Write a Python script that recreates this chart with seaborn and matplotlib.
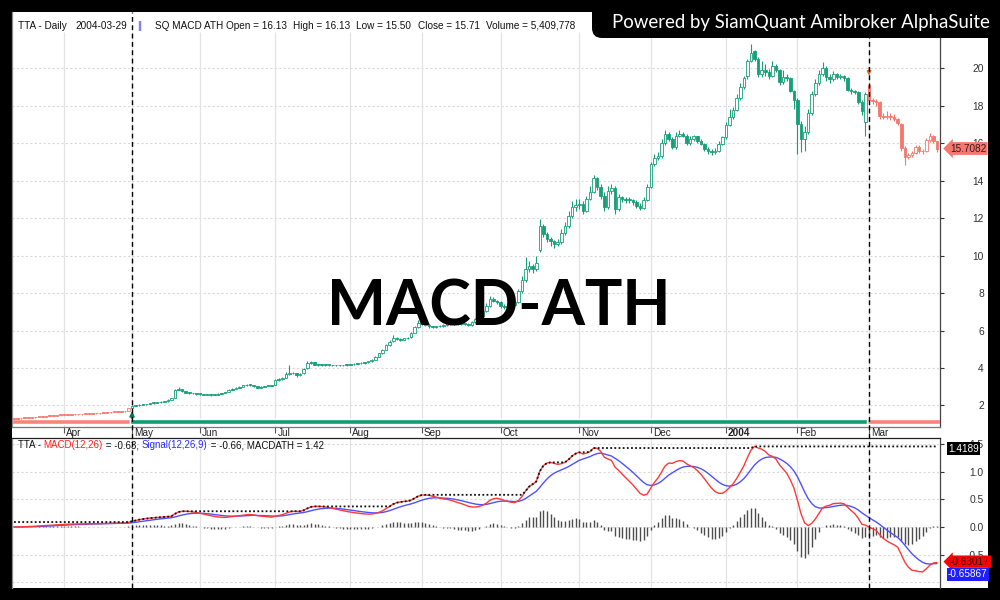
import numpy as np
import pandas as pd
import matplotlib
matplotlib.use("Agg")
import matplotlib.pyplot as plt
import matplotlib.transforms as mtransforms
from matplotlib.patches import Rectangle, FancyBboxPatch
from matplotlib.lines import Line2D
import seaborn as sns

# ---------------- data ----------------
ticker = "TTA"
start_date, end_date = "2003-03-12", "2004-03-29"
holidays = ["2003-04-07", "2003-04-14", "2003-04-15", "2003-05-01", "2003-05-05",
            "2003-05-15", "2003-07-01", "2003-07-14", "2003-08-12", "2003-10-23",
            "2003-12-05", "2003-12-10", "2004-01-01", "2004-01-02", "2004-03-05"]

o_2003_03 = [1.29,1.30,1.31,1.33,1.33,1.35,1.36,1.39,1.40,1.41,1.43,1.46,1.46,1.48]
h_2003_03 = [1.31,1.32,1.34,1.34,1.36,1.37,1.40,1.41,1.42,1.44,1.47,1.47,1.49,1.51]
l_2003_03 = [1.28,1.29,1.30,1.32,1.32,1.34,1.35,1.38,1.39,1.40,1.42,1.44,1.45,1.47]
c_2003_03 = [1.30,1.31,1.33,1.33,1.35,1.36,1.39,1.40,1.41,1.43,1.46,1.46,1.48,1.50]

o_2003_04 = [1.50,1.50,1.51,1.52,1.53,1.52,1.54,1.56,1.57,1.58,1.58,1.60,1.62,1.63,1.65,1.66,1.67,1.68,1.72]
h_2003_04 = [1.52,1.52,1.53,1.54,1.54,1.55,1.57,1.58,1.59,1.60,1.61,1.63,1.64,1.66,1.67,1.68,1.70,1.72,1.86]
l_2003_04 = [1.49,1.49,1.50,1.51,1.51,1.51,1.53,1.55,1.56,1.57,1.57,1.59,1.61,1.62,1.64,1.65,1.66,1.67,1.70]
c_2003_04 = [1.50,1.51,1.52,1.53,1.52,1.54,1.56,1.57,1.58,1.58,1.60,1.62,1.63,1.65,1.66,1.67,1.68,1.70,1.84]

o_2003_05 = [1.86,1.97,2.00,2.04,2.06,2.08,2.12,2.15,2.17,2.20,2.22,2.30,2.42,2.85,2.88,2.75,2.68,2.66,2.64]
h_2003_05 = [2.00,2.02,2.06,2.08,2.10,2.14,2.17,2.19,2.22,2.25,2.32,2.42,2.90,2.98,2.90,2.78,2.70,2.68,2.66]
l_2003_05 = [1.85,1.95,1.98,2.02,2.04,2.06,2.10,2.13,2.15,2.18,2.20,2.28,2.38,2.80,2.72,2.65,2.62,2.60,2.58]
c_2003_05 = [1.97,2.00,2.04,2.06,2.08,2.12,2.15,2.17,2.20,2.22,2.30,2.38,2.85,2.88,2.75,2.68,2.66,2.64,2.62]

o_2003_06 = [2.62,2.60,2.58,2.57,2.56,2.58,2.62,2.66,2.72,2.85,2.90,2.95,3.00,3.08,3.12,3.10,3.02,2.96,3.00,3.04,3.05]
h_2003_06 = [2.65,2.63,2.60,2.59,2.60,2.64,2.68,2.74,2.88,2.93,2.98,3.04,3.12,3.16,3.15,3.12,3.04,3.02,3.06,3.08,3.10]
l_2003_06 = [2.57,2.55,2.54,2.53,2.54,2.56,2.60,2.64,2.70,2.82,2.87,2.92,2.98,3.05,3.06,3.00,2.93,2.94,2.98,3.02,3.02]
c_2003_06 = [2.60,2.58,2.57,2.56,2.58,2.62,2.66,2.70,2.85,2.90,2.95,3.00,3.08,3.12,3.10,3.02,2.96,3.00,3.04,3.05,3.06]

o_2003_07 = [3.10,3.35,3.40,3.48,3.68,3.75,3.72,3.62,3.72,3.98,4.25,4.30,4.18,4.16,4.18,4.17,4.15,4.14,4.15,4.14,4.15]
h_2003_07 = [3.40,3.45,3.50,3.80,4.15,3.80,3.76,3.75,4.00,4.35,4.40,4.32,4.22,4.22,4.21,4.20,4.18,4.18,4.18,4.18,4.20]
l_2003_07 = [3.08,3.30,3.36,3.45,3.62,3.66,3.50,3.58,3.70,3.95,4.20,4.15,4.12,4.12,4.13,4.12,4.10,4.11,4.10,4.11,4.12]
c_2003_07 = [3.35,3.40,3.45,3.68,3.75,3.72,3.62,3.70,3.95,4.25,4.30,4.18,4.16,4.18,4.17,4.15,4.14,4.15,4.14,4.15,4.17]

o_2003_08 = [4.17,4.20,4.22,4.25,4.26,4.30,4.36,4.45,4.60,4.78,4.98,5.25,5.42,5.58,5.55,5.52,5.58,5.64,5.88,6.20]
h_2003_08 = [4.23,4.25,4.28,4.30,4.34,4.40,4.50,4.64,4.82,5.00,5.30,5.50,5.78,5.65,5.60,5.62,5.66,5.90,6.25,6.55]
l_2003_08 = [4.15,4.18,4.20,4.22,4.24,4.28,4.34,4.42,4.57,4.75,4.95,5.20,5.38,5.48,5.45,5.48,5.54,5.60,5.85,6.15]
c_2003_08 = [4.20,4.22,4.25,4.26,4.30,4.36,4.45,4.60,4.78,4.95,5.25,5.40,5.58,5.55,5.52,5.58,5.62,5.85,6.20,6.40]

o_2003_09 = [6.40,6.35,6.30,6.22,6.20,6.22,6.24,6.30,6.44,6.38,6.35,6.33,6.38,6.34,6.30,6.45,6.60,6.80,7.05,7.30,7.70,7.60]
h_2003_09 = [6.48,6.42,6.35,6.26,6.26,6.28,6.35,6.50,6.48,6.42,6.40,6.42,6.42,6.38,6.50,6.66,6.90,7.15,7.45,7.85,7.80,7.65]
l_2003_09 = [6.30,6.24,6.16,6.14,6.16,6.18,6.20,6.26,6.32,6.30,6.28,6.28,6.30,6.25,6.26,6.40,6.55,6.75,7.00,7.25,7.50,7.40]
c_2003_09 = [6.35,6.30,6.22,6.20,6.22,6.24,6.30,6.44,6.38,6.35,6.33,6.38,6.34,6.30,6.45,6.60,6.80,7.05,7.30,7.70,7.60,7.50]

o_2003_10 = [7.50,7.30,7.25,7.28,7.35,7.50,8.10,8.70,9.30,9.45,9.30,10.30,11.60,11.15,10.90,10.75,10.60,10.70,11.20,11.55,12.10,12.60]
h_2003_10 = [7.60,7.40,7.35,7.42,7.60,8.20,8.90,9.90,9.70,9.55,10.00,11.95,11.70,11.25,11.00,10.85,10.90,11.40,11.80,12.40,12.90,13.00]
l_2003_10 = [7.20,7.15,7.18,7.25,7.30,7.45,8.00,8.60,9.10,9.05,9.20,10.20,11.00,10.70,10.50,10.40,10.50,10.60,11.10,11.45,12.00,12.40]
c_2003_10 = [7.30,7.25,7.28,7.35,7.50,8.10,8.70,9.30,9.45,9.30,9.60,11.60,11.15,10.90,10.75,10.60,10.70,11.20,11.55,12.10,12.60,12.70]

o_2003_11 = [12.70,12.75,12.35,13.00,13.40,14.15,13.65,13.20,12.60,13.45,13.60,12.50,13.10,13.00,12.95,12.95,12.85,12.65,12.55,12.95]
h_2003_11 = [13.00,12.90,13.20,13.70,14.30,14.20,13.80,13.40,13.70,13.80,13.70,13.30,13.20,13.10,13.10,13.00,12.95,12.80,13.10,13.80]
l_2003_11 = [12.50,12.20,12.30,12.95,13.35,13.50,13.00,12.35,12.50,13.30,12.20,12.40,12.85,12.80,12.80,12.70,12.55,12.45,12.50,12.90]
c_2003_11 = [12.75,12.35,13.00,13.40,14.15,13.65,13.20,12.60,13.45,13.60,12.50,13.10,13.00,12.95,12.95,12.85,12.65,12.55,12.95,13.65]

o_2003_12 = [13.65,14.90,15.20,15.30,16.00,16.50,16.20,15.80,16.40,16.50,16.40,16.00,16.20,16.35,16.10,15.95,15.70,15.55,15.50,15.60,15.95]
h_2003_12 = [15.00,15.40,15.50,16.20,16.70,16.60,16.30,16.60,16.70,16.60,16.50,16.40,16.45,16.40,16.20,16.00,15.80,15.70,15.75,16.10,16.40]
l_2003_12 = [13.60,14.80,15.10,15.20,15.90,16.10,15.70,15.70,16.30,16.30,15.90,15.90,16.10,16.00,15.90,15.60,15.40,15.35,15.40,15.50,15.90]
c_2003_12 = [14.90,15.20,15.30,16.00,16.50,16.20,15.80,16.40,16.50,16.40,16.00,16.20,16.35,16.10,15.95,15.70,15.55,15.50,15.60,15.95,16.30]

o_2004_01 = [16.30,16.95,17.40,17.75,18.40,19.00,19.55,20.40,20.90,20.50,19.70,19.90,19.80,19.60,20.10,19.90,19.25,19.50,19.45,18.80]
h_2004_01 = [17.10,17.80,17.90,18.60,19.20,19.60,20.50,21.30,20.95,20.60,20.40,20.20,19.95,20.40,20.20,19.95,19.90,19.70,19.50,18.85]
l_2004_01 = [16.20,16.90,17.30,17.70,18.30,18.90,19.40,20.30,20.40,19.50,19.50,19.60,19.40,19.50,19.80,19.10,19.15,19.30,18.70,17.80]
c_2004_01 = [16.95,17.40,17.75,18.40,19.00,19.45,20.40,20.80,20.50,19.70,19.90,19.80,19.60,20.10,19.90,19.25,19.50,19.45,18.80,18.30]

o_2004_02 = [18.30,17.00,16.20,16.60,17.60,18.60,19.20,19.70,20.00,19.50,19.40,19.70,19.50,19.60,19.45,18.85,18.75,18.70,18.20,17.10]
h_2004_02 = [18.40,17.20,16.90,17.80,18.80,19.40,19.90,20.30,20.10,19.70,19.85,19.75,19.70,19.65,19.50,18.95,18.85,18.75,18.30,18.70]
l_2004_02 = [15.40,15.50,15.60,16.50,17.50,18.50,19.10,19.60,19.30,19.20,19.30,19.40,19.40,19.30,18.75,18.60,18.60,18.10,17.50,16.40]
c_2004_02 = [17.00,16.20,16.60,17.60,18.60,19.20,19.70,20.00,19.50,19.40,19.70,19.50,19.60,19.45,18.85,18.75,18.70,18.20,17.70,18.60]

o_2004_03 = [19.10,18.30,18.25,18.20,17.45,17.40,17.45,17.40,17.30,17.00,15.75,15.25,15.35,15.45,15.80,15.55,15.55,16.15,16.35,16.13]
h_2004_03 = [19.20,18.40,18.35,18.25,17.60,17.70,17.60,17.55,17.35,17.05,15.85,15.45,15.55,15.90,15.90,15.70,16.25,16.55,16.45,16.13]
l_2004_03 = [18.20,18.10,17.95,17.30,17.30,17.30,17.25,17.20,16.95,15.60,14.85,15.15,15.25,15.40,15.45,15.40,15.50,16.05,16.00,15.50]
c_2004_03 = [18.30,18.25,18.20,17.45,17.40,17.45,17.40,17.30,17.05,15.75,15.25,15.35,15.45,15.80,15.55,15.55,16.15,16.35,16.10,15.7082]

last_volume = 5409778
buy_date, sell_date = "2003-05-02", "2004-03-01"
macdath_prior = 0.09            # all-time-high of MACD before the window
label_macd, label_signal, label_ath = -0.63017, -0.65867, 1.4189
month_names = ["Jan", "Feb", "Mar", "Apr", "May", "Jun", "Jul", "Aug", "Sep", "Oct", "Nov", "Dec"]

# ---------------- assemble ----------------
months = ["2003_03", "2003_04", "2003_05", "2003_06", "2003_07", "2003_08", "2003_09",
          "2003_10", "2003_11", "2003_12", "2004_01", "2004_02", "2004_03"]
g = globals()
opens = np.concatenate([g["o_" + m] for m in months])
highs = np.concatenate([g["h_" + m] for m in months])
lows = np.concatenate([g["l_" + m] for m in months])
closes = np.concatenate([g["c_" + m] for m in months])

dates = pd.bdate_range(start_date, end_date)
dates = dates[~dates.isin(pd.to_datetime(holidays))]
assert len(dates) == len(closes) == len(opens) == len(highs) == len(lows)
n = len(dates)
idx = np.arange(n)
buy_i = int(np.where(dates == pd.Timestamp(buy_date))[0][0])
sell_i = int(np.where(dates == pd.Timestamp(sell_date))[0][0])

s = pd.Series(closes)
macd = (s.ewm(span=12, adjust=False).mean() - s.ewm(span=26, adjust=False).mean()).values
signal = pd.Series(macd).ewm(span=9, adjust=False).mean().values
hist = macd - signal
macdath = np.maximum.accumulate(np.maximum(macd, macdath_prior))

per = pd.Series(idx, index=dates)
month_first = per.groupby([dates.year, dates.month]).first()
month_first = month_first.iloc[1:]
month_labels = [str(y) if m == 1 else month_names[m - 1] for (y, m) in month_first.index]

# ---------------- style ----------------
sns.set_style("white")
plt.rcParams["font.family"] = ["Liberation Sans", "DejaVu Sans"]
plt.rcParams["axes.unicode_minus"] = False

GREEN = "#17A078"
GREEN_BAND = "#0E9E72"
RED = "#F6776E"
RED_BAND = "#F8847C"
BLUE_TXT = "#3333FF"
GRID = "#D9D9D9"

W, H = 1000, 600
fig = plt.figure(figsize=(10, 6), dpi=100, facecolor="black")
fig.patches.append(Rectangle((12 / W, 12 / H), 976 / W, 576 / H, transform=fig.transFigure,
                             facecolor="white", edgecolor="none", zorder=-5))

ax = fig.add_axes([12 / W, 1 - 427 / H, 928 / W, 415 / H])
axm = fig.add_axes([12 / W, 12 / H, 928 / W, 150 / H], sharex=ax)
for a in (ax, axm):
    a.set_facecolor("white")
    a.grid(False)

xl = (-0.56, n - 1 + 0.84)
ax.set_xlim(*xl)
ax.set_ylim(0.853, 22.99)
axm.set_ylim(-1.109, 1.618)

# grid
price_ticks = np.arange(2, 21, 2)
ax.hlines(price_ticks, xl[0], xl[1], colors=GRID, linewidth=0.8, linestyles=(0, (2, 2)), zorder=0)
ax.vlines(month_first.values, 0.853, 21.9, colors="#E3E3E3", linewidth=0.9, zorder=0)
macd_ticks = [1.5, 1.0, 0.5, 0.0, -0.5]
axm.hlines(macd_ticks + [-1.0], xl[0], xl[1], colors=GRID, linewidth=0.8, linestyles=(0, (2, 2)), zorder=0)
axm.vlines(month_first.values, -1.109, 1.618, colors="#E3E3E3", linewidth=0.9, zorder=0)

# position band
ax.broken_barh([(xl[0], buy_i - 0.5 - xl[0]), (sell_i - 0.5, xl[1] - sell_i + 0.5)], (1.01, 0.27),
               facecolors=RED_BAND, zorder=1)
ax.broken_barh([(buy_i - 0.5, sell_i - buy_i)], (1.01, 0.27), facecolors=GREEN_BAND, zorder=1)

# candles
in_pos = (idx >= buy_i) & (idx < sell_i)
cols = np.where(in_pos, GREEN, RED)
up = closes >= opens
ax.vlines(idx, lows, highs, colors=cols, linewidth=0.8, zorder=2)
body_bottom = np.minimum(opens, closes)
body_h = np.maximum(np.abs(closes - opens), 0.04)
faces = np.where(up & (np.abs(closes - opens) > 0.05), "white", cols)
ax.bar(idx, body_h, bottom=body_bottom, width=0.72, color=faces, edgecolor=cols, linewidth=0.6, zorder=3)

# signals
ax.annotate("", xy=(buy_i, 1.85), xytext=(buy_i, 1.15),
            arrowprops=dict(arrowstyle="-|>", color="#0B7352", lw=1.2, mutation_scale=7), zorder=6)
ax.annotate("", xy=(sell_i, highs[sell_i] + 0.25), xytext=(sell_i, highs[sell_i] + 0.95),
            arrowprops=dict(arrowstyle="-|>", color="#D9652B", lw=1.0, mutation_scale=6), zorder=6)

# x (date) axis
ax.set_xticks(month_first.values)
ax.tick_params(axis="x", length=4, direction="out", color="#555555", labelbottom=False, bottom=True)
bx = mtransforms.blended_transform_factory(ax.transData, ax.transAxes)
for xi, lab in zip(month_first.values, month_labels):
    ax.text(xi + 0.6, -0.0145, lab, transform=bx, ha="left", va="center", fontsize=7.2,
            color="#222222", fontweight="bold" if lab.isdigit() else "normal")

# y axes on the right
ax.yaxis.tick_right()
ax.set_yticks(price_ticks)
ax.set_yticklabels([f"{v:d}" for v in price_ticks])
ax.tick_params(axis="y", length=3, pad=28.5, labelsize=7.4, colors="#333333", right=True)
for lab in ax.get_yticklabels():
    lab.set_horizontalalignment("right")

axm.yaxis.tick_right()
axm.set_yticks(macd_ticks)
axm.set_yticklabels([f"{v:.1f}" for v in macd_ticks])
axm.tick_params(axis="y", length=3, pad=28.5, labelsize=7.4, colors="#333333", right=True)
axm.tick_params(axis="x", bottom=False, labelbottom=False)
for lab in axm.get_yticklabels():
    lab.set_horizontalalignment("right")

for a in (ax, axm):
    a.spines["left"].set_color("#8A8A8A")
    a.spines["right"].set_color("#444444")
    for sp in a.spines.values():
        sp.set_linewidth(0.9)
ax.spines["top"].set_visible(False)
ax.spines["bottom"].set_color("#777777")
axm.spines["bottom"].set_visible(False)
axm.spines["top"].set_color("#222222")

# MACD panel
axm.vlines(idx, 0, hist, colors="#4D4D4D", linewidth=1.0, zorder=2)
dfm = pd.DataFrame({"idx": idx, "MACD": macd, "Signal": signal, "MACDATH": macdath})
sns.lineplot(data=dfm, x="idx", y="Signal", ax=axm, color="#5050FF", linewidth=1.0, zorder=4)
sns.lineplot(data=dfm, x="idx", y="MACD", ax=axm, color="#FF3838", linewidth=1.0, zorder=5)
axm.plot(idx, macdath, color="#111111", linewidth=1.3, linestyle=(0, (1, 1.3)), zorder=6)
for a in (ax, axm):
    a.set_xlabel("")
    a.set_ylabel("")
ax.set_xlim(*xl)

# buy / sell vertical dashed lines spanning both panes
vt = mtransforms.blended_transform_factory(ax.transData, fig.transFigure)
for xi in (buy_i, sell_i):
    fig.add_artist(Line2D([xi, xi], [12 / H, 1 - 12 / H], transform=vt, color="black",
                          linewidth=1.0, linestyle=(0, (3.5, 2.5)), zorder=3))

# value tags on the right
bt = mtransforms.blended_transform_factory(ax.transAxes, ax.transData)
ax.text(1.0 + 10 / 928, closes[-1], f"{closes[-1]:.4f}", transform=bt, ha="left", va="center",
        fontsize=7.2, color="#3A1A1A", clip_on=False, zorder=7,
        bbox=dict(boxstyle="larrow,pad=0.14", fc=RED, ec="none"))
btm = mtransforms.blended_transform_factory(axm.transAxes, axm.transData)
axm.text(1.0 + 8 / 928, label_ath, f"{label_ath:.4f}", transform=btm, ha="left", va="center",
         fontsize=7.2, color="white", clip_on=False, zorder=7,
         bbox=dict(boxstyle="square,pad=0.15", fc="black", ec="none"))
axm.text(1.0 + 10 / 928, label_macd, f"{label_macd:.5f}", transform=btm, ha="left", va="center",
         fontsize=7.2, color="#330000", clip_on=False, zorder=7,
         bbox=dict(boxstyle="larrow,pad=0.12", fc="#FF0000", ec="none"))
axm.text(1.0 + 8 / 928, label_signal - 0.2, f"{label_signal:.5f}", transform=btm, ha="left", va="center",
         fontsize=7.2, color="white", clip_on=False, zorder=7,
         bbox=dict(boxstyle="square,pad=0.15", fc="#1E1EFF", ec="none"))

# header of price pane
fs = 7.2
yh = 1 - 29 / H
hdr = [(18, f"{ticker} - Daily", "#111111"),
       (75, dates[-1].strftime("%Y-%m-%d"), "#111111"),
       (137, "||", BLUE_TXT),
       (155, f"SQ MACD ATH Open = {opens[-1]:.2f}", "#111111"),
       (293, f"High = {highs[-1]:.2f}", "#111111"),
       (356, f"Low = {lows[-1]:.2f}", "#111111"),
       (418, f"Close = {closes[-1]:.2f}", "#111111"),
       (486, f"Volume = {last_volume:,}", "#111111")]
for xp, txt, col in hdr:
    fig.text(xp / W, yh, txt, fontsize=fs, color=col, ha="left", va="baseline", zorder=4)

# header of MACD pane (coloured pieces)
fsm = 7.0
pieces = [(f"{ticker} - ", "#111111"), ("MACD(12,26)", "#FF2020"),
          (f" = {label_macd:.2f}, ", "#111111"), ("Signal(12,26,9)", "#2B2BFF"),
          (f" = {label_signal:.2f}, MACDATH = {label_ath:.2f}", "#111111")]
t = fig.text(18 / W, 1 - 448.5 / H, pieces[0][0], fontsize=fsm, color=pieces[0][1], ha="left",
             va="baseline", zorder=4)
for txt, col in pieces[1:]:
    t = axm.annotate(txt, xy=(1, 0), xycoords=t, ha="left", va="bottom", fontsize=fsm, color=col,
                     annotation_clip=False, zorder=4)

# watermark title
fig.text(0.499, 1 - 325 / H, "MACD-ATH", fontsize=45, fontweight="bold", family=["Lato", "DejaVu Sans"],
         ha="center", va="baseline", color="black", zorder=8)

# badge
fig.patches.append(FancyBboxPatch((5.92, 5.62), 4.6, 0.8, boxstyle="round,pad=0,rounding_size=0.1",
                                  transform=fig.dpi_scale_trans, facecolor="black", edgecolor="none",
                                  zorder=9))
fig.text(612 / W, 1 - 28 / H, "Powered by SiamQuant Amibroker AlphaSuite", fontsize=13.4,
         family=["Lato", "DejaVu Sans"], color="white", ha="left", va="baseline", zorder=10)

fig.savefig("out.png", dpi=100, facecolor="black")
